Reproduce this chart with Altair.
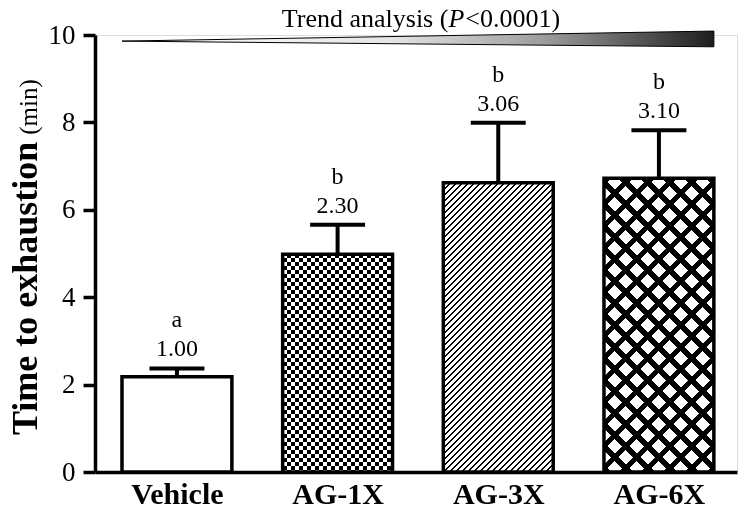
import json
import math
import altair as alt
import pandas as pd

# ---------------- data ----------------
CATEGORIES = ["Vehicle", "AG-1X", "AG-3X", "AG-6X"]
MEANS = [2.18, 4.98, 6.62, 6.72]
UPPER = [2.37, 5.66, 7.99, 7.82]          # mean + error
LETTERS = ["a", "b", "b", "b"]
FOLDS = ["1.00", "2.30", "3.06", "3.10"]
Y_TICKS = [0, 2, 4, 6, 8, 10]
TREND_TEXT = ["Trend analysis (", "P", "<0.0001)"]
Y_TITLE = ["Time to exhaustion", "(min)"]
WEDGE_TIP = 9.86
WEDGE_TOP = 10.09
WEDGE_BOTTOM = 9.73

# ---------------- layout / style ----------------
W, H = 642, 437
Y_MAX = 10
X_DOMAIN = [-0.51, 3.486]
HALF = 0.342      # half bar width (x units)
CAP = 0.171       # half cap width
PX_X = W / (X_DOMAIN[1] - X_DOMAIN[0])
PX_Y = H / Y_MAX
FONT = "Liberation Serif"
BAR_W = 2 * HALF * PX_X

df = pd.DataFrame({
    "idx": list(range(len(CATEGORIES))),
    "cat": CATEGORIES,
    "mean": MEANS,
    "upper": UPPER,
    "letter": LETTERS,
    "fold": FOLDS,
})

x_scale = alt.Scale(domain=X_DOMAIN, nice=False, zero=False)
y_scale = alt.Scale(domain=[0, Y_MAX], nice=False)

x_axis = alt.Axis(
    values=list(range(len(CATEGORIES))),
    labelExpr=f"{json.dumps(CATEGORIES)}[datum.value]",
    title=None, grid=False, ticks=False,
    domainColor="black", domainWidth=3.5,
    labelFont=FONT, labelFontWeight="bold", labelFontSize=30,
    labelColor="black", labelPadding=31, labelBaseline="alphabetic",
    labelFlush=False, labelOverlap=False,
)
y_axis = alt.Axis(
    values=Y_TICKS, title=None, grid=False,
    domainColor="black", domainWidth=3.5,
    tickColor="black", tickWidth=3.5, tickSize=12,
    labelFont=FONT, labelFontSize=27, labelColor="black", labelPadding=8,
)

base = alt.Chart(df).transform_calculate(
    x0=f"datum.idx - {HALF}",
    x1=f"datum.idx + {HALF}",
    c0=f"datum.idx - {CAP}",
    c1=f"datum.idx + {CAP}",
    zero="0",
)


def stripes(n_periods, frac, on, off):
    stops = []
    i = 0
    while i / n_periods < 1:
        a = i / n_periods
        b = min((i + frac) / n_periods, 1.0)
        c = min((i + 1) / n_periods, 1.0)
        stops += [alt.GradientStop(color=on, offset=a), alt.GradientStop(color=on, offset=b),
                  alt.GradientStop(color=off, offset=b), alt.GradientStop(color=off, offset=c)]
        i += 1
    return stops


def diag_gradient(w, h, period, frac, on, off, direction):
    k = (w + h) / (w * w + h * h)
    n = (w + h) / period
    if direction == "/":
        return alt.LinearGradient(gradient="linear", stops=stripes(n, frac, on, off),
                                  x1=0, y1=0, x2=k * w, y2=k * h)
    return alt.LinearGradient(gradient="linear", stops=stripes(n, frac, on, off),
                              x1=0, y1=1, x2=k * w, y2=1 - k * h)


def rect_layer(cat, fill, **kw):
    return base.transform_filter(alt.datum.cat == cat).mark_rect(fill=fill, **kw).encode(
        x=alt.X("x0:Q", scale=x_scale, axis=x_axis),
        x2="x1:Q",
        y=alt.Y("mean:Q", scale=y_scale, axis=y_axis),
        y2="zero:Q",
    )


T = "rgba(255,255,255,0)"
h1 = MEANS[1] * PX_Y
h2 = MEANS[2] * PX_Y
h3 = MEANS[3] * PX_Y
CELL = 4.0

layers = [
    rect_layer(CATEGORIES[0], "white"),
    # checkerboard: vertical stripes xor horizontal stripes
    rect_layer(CATEGORIES[1], alt.LinearGradient(
        gradient="linear", stops=stripes(BAR_W / (2 * CELL), 0.5, "black", "white"),
        x1=0, y1=0, x2=1, y2=0)),
    rect_layer(CATEGORIES[1], alt.LinearGradient(
        gradient="linear", stops=stripes(h1 / (2 * CELL), 0.5, "white", T),
        x1=0, y1=0, x2=0, y2=1), blend="difference"),
    # diagonal hatch
    rect_layer(CATEGORIES[2], diag_gradient(BAR_W, h2, 6.0, 0.45, "black", "white", "/")),
    # cross hatch
    rect_layer(CATEGORIES[3], diag_gradient(BAR_W, h3, 22.0, 0.32, "black", "white", "/")),
    rect_layer(CATEGORIES[3], diag_gradient(BAR_W, h3, 22.0, 0.32, "black", T, "\\")),
]

outline = base.mark_rect(fillOpacity=0, stroke="black", strokeWidth=3.5).encode(
    x=alt.X("x0:Q", scale=x_scale, axis=x_axis),
    x2="x1:Q",
    y=alt.Y("mean:Q", scale=y_scale, axis=y_axis),
    y2="zero:Q",
)

stem = base.mark_rule(color="black", strokeWidth=4).encode(
    x=alt.X("idx:Q", scale=x_scale, axis=x_axis),
    y=alt.Y("mean:Q", scale=y_scale, axis=y_axis),
    y2="upper:Q",
)
cap = base.mark_rule(color="black", strokeWidth=4).encode(
    x=alt.X("c0:Q", scale=x_scale, axis=x_axis),
    x2="c1:Q",
    y=alt.Y("upper:Q", scale=y_scale, axis=y_axis),
)

fold_text = base.mark_text(font=FONT, fontSize=24, color="black", baseline="alphabetic", dy=-12).encode(
    x=alt.X("idx:Q", scale=x_scale, axis=x_axis),
    y=alt.Y("upper:Q", scale=y_scale, axis=y_axis),
    text="fold:N",
)
letter_text = base.mark_text(font=FONT, fontSize=24, color="black", baseline="alphabetic", dy=-41).encode(
    x=alt.X("idx:Q", scale=x_scale, axis=x_axis),
    y=alt.Y("upper:Q", scale=y_scale, axis=y_axis),
    text="letter:N",
)

# trend wedge
wedge_df = pd.DataFrame({
    "wx": [0 - HALF, len(CATEGORIES) - 1 + HALF],
    "wy": [WEDGE_TIP, WEDGE_TOP],
    "wy2": [WEDGE_TIP, WEDGE_BOTTOM],
})
wedge_fill = alt.LinearGradient(
    gradient="linear",
    stops=[alt.GradientStop(color="#ffffff", offset=0),
           alt.GradientStop(color="#e6e6e6", offset=0.45),
           alt.GradientStop(color="#9a9a9a", offset=0.72),
           alt.GradientStop(color="#1e1e1e", offset=1)],
    x1=0, y1=0, x2=1, y2=0,
)
wedge = alt.Chart(wedge_df).mark_area(fill=wedge_fill, stroke="black", strokeWidth=1).encode(
    x=alt.X("wx:Q", scale=x_scale, axis=x_axis),
    y=alt.Y("wy:Q", scale=y_scale, axis=y_axis),
    y2="wy2:Q",
)

# title pieces (Times metrics: em widths)
TFS = 26
w_a, w_p, w_b = 6.443 * TFS, 0.611 * TFS, 3.647 * TFS
center_rel = 420 - 95
start = center_rel - (w_a + w_p + w_b) / 2
xp = start + w_a
title_df = pd.DataFrame({"t": TREND_TEXT})
t1 = alt.Chart(title_df).transform_filter(alt.datum.t == TREND_TEXT[0]).mark_text(
    font=FONT, fontSize=TFS, color="black", align="right", baseline="alphabetic").encode(
    x=alt.value(xp), y=alt.value(-8), text="t:N")
t2 = alt.Chart(title_df).transform_filter(alt.datum.t == TREND_TEXT[1]).mark_text(
    font=FONT, fontSize=TFS, fontStyle="italic", color="black", align="left", baseline="alphabetic").encode(
    x=alt.value(xp), y=alt.value(-8), text="t:N")
t3 = alt.Chart(title_df).transform_filter(alt.datum.t == TREND_TEXT[2]).mark_text(
    font=FONT, fontSize=TFS, color="black", align="left", baseline="alphabetic").encode(
    x=alt.value(xp + w_p + 1), y=alt.value(-8), text="t:N")

# y title pieces
ytitle_df = pd.DataFrame({"t": Y_TITLE})
BFS, NFS = 36, 25
y_start = 435 - 35
yt1 = alt.Chart(ytitle_df).transform_filter(alt.datum.t == Y_TITLE[0]).mark_text(
    font=FONT, fontSize=BFS, fontWeight="bold", color="black", angle=270, align="left",
    baseline="alphabetic").encode(x=alt.value(-58), y=alt.value(y_start), text="t:N")
yt2 = alt.Chart(ytitle_df).transform_filter(alt.datum.t == Y_TITLE[1]).mark_text(
    font=FONT, fontSize=NFS, color="black", angle=270, align="left",
    baseline="alphabetic").encode(
    x=alt.value(-58), y=alt.value(y_start - 8.167 * BFS - 0.25 * NFS), text="t:N")

chart = alt.layer(
    *layers, outline, stem, cap, fold_text, letter_text, wedge, t1, t2, t3, yt1, yt2
).properties(
    width=W, height=H,
    autosize=alt.AutoSizeParams(type="none"),
    padding={"left": 87, "top": 27, "right": 4, "bottom": 36},
).configure_view(stroke=None).configure(background="white")

chart.save("out.html", embed_options={"renderer": "svg", "actions": False})
